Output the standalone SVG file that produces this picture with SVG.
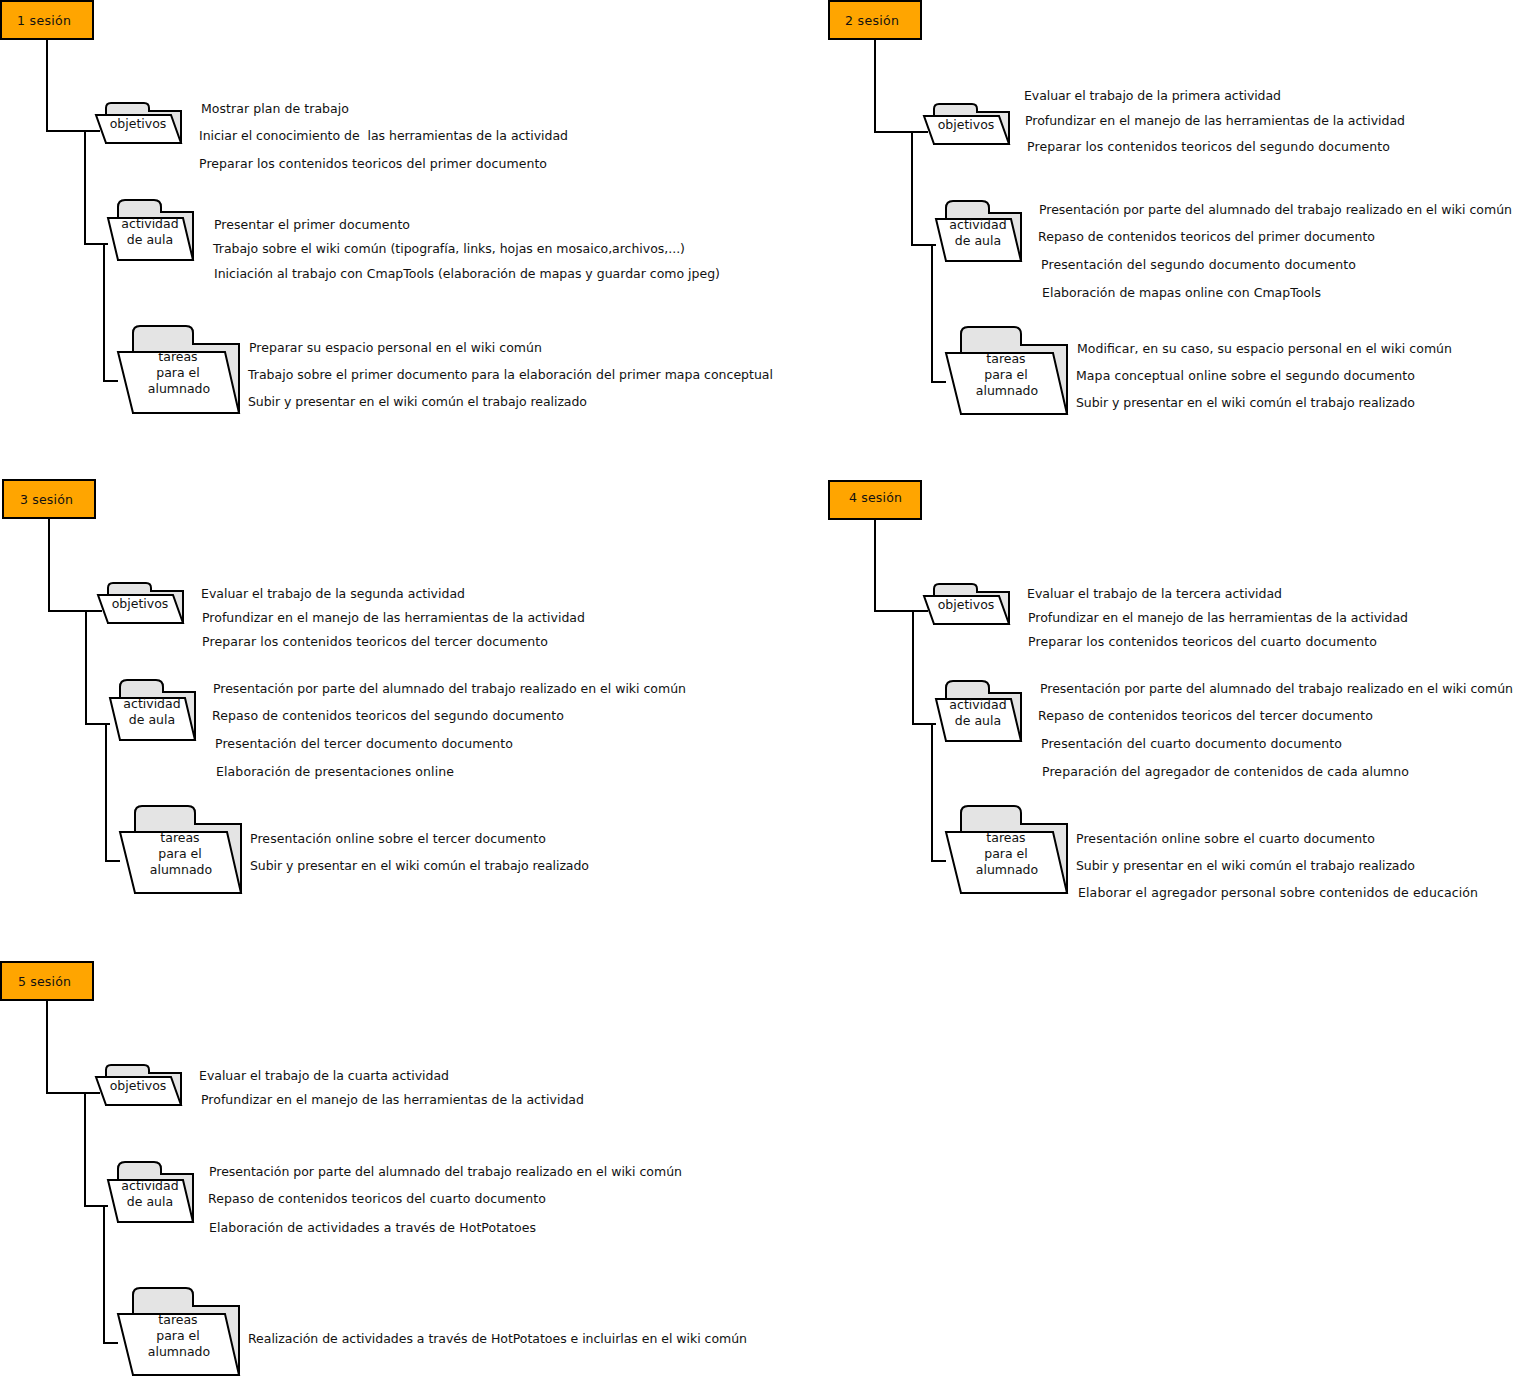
<svg xmlns="http://www.w3.org/2000/svg" width="1516" height="1377" viewBox="0 0 1516 1377">
<style>
text{font-family:"DejaVu Sans",sans-serif;font-size:12.5px;fill:#111;white-space:pre}
.c{text-anchor:middle}
.box{fill:#ffa500;stroke:#000;stroke-width:2}
.bk{fill:#e4e4e4;stroke:#000;stroke-width:2}
.fr{fill:#fff;stroke:#000;stroke-width:2}
.cn{fill:none;stroke:#000;stroke-width:2}
</style>
<defs>
<g id="fo"><path class="bk" d="M106 115V108Q106 103 111 103H144Q149 103 149 108V111H181V143H106Z"/><path class="fr" d="M96 115H171L181 143H106Z"/></g>
<g id="fa"><path class="bk" d="M118 218V207Q118 200 125 200H154Q161 200 161 207V212H193V260H118Z"/><path class="fr" d="M108 218H183L193 260H118Z"/></g>
<g id="ft"><path class="bk" d="M133 352V333Q133 326 140 326H186Q193 326 193 333V344H239V413H133Z"/><path class="fr" d="M118 352H225L239 413H133Z"/></g>
</defs>
<g id="connectors">
<path class="cn" d="M47 39V131H100M85 131V244H108M104 244V381H118"/>
<path class="cn" d="M875 39V132H928M912 132V245H936M932 245V382H946"/>
<path class="cn" d="M49 518V611H102M86 611V724H110M106 724V861H120"/>
<path class="cn" d="M875 519V611H928M913 611V724H936M932 724V861H946"/>
<path class="cn" d="M47 1001V1093H100M85 1093V1206H108M104 1206V1343H118"/>
</g>
<g id="s1"><rect class="box" x="1" y="1" width="92" height="38"/><text x="17" y="25" textLength="54">1 sesión</text></g>
<g id="s1-obj"><use href="#fo"/><text class="c" x="138" y="128">objetivos</text>
<text x="201" y="113" textLength="148">Mostrar plan de trabajo</text><text x="199" y="140" textLength="369">Iniciar el conocimiento de  las herramientas de la actividad</text><text x="199" y="168" textLength="348">Preparar los contenidos teoricos del primer documento</text></g>
<g id="s1-act"><use href="#fa"/><text class="c" x="150" y="228">actividad</text><text class="c" x="150" y="244">de aula</text>
<text x="214" y="229" textLength="196">Presentar el primer documento</text><text x="213" y="253" textLength="472">Trabajo sobre el wiki común (tipografía, links, hojas en mosaico,archivos,...)</text><text x="214" y="278" textLength="506">Iniciación al trabajo con CmapTools (elaboración de mapas y guardar como jpeg)</text></g>
<g id="s1-tar"><use href="#ft"/><text class="c" x="178" y="361">tareas</text><text class="c" x="178" y="377">para el</text><text class="c" x="179" y="393">alumnado</text>
<text x="249" y="352" textLength="293">Preparar su espacio personal en el wiki común</text><text x="248" y="379" textLength="525">Trabajo sobre el primer documento para la elaboración del primer mapa conceptual</text><text x="248" y="406" textLength="339">Subir y presentar en el wiki común el trabajo realizado</text></g>

<g id="s2"><rect class="box" x="829" y="1" width="92" height="38"/><text x="845" y="25" textLength="54">2 sesión</text></g>
<g id="s2-obj"><use href="#fo" x="828" y="1"/><text class="c" x="966" y="129">objetivos</text>
<text x="1024" y="100" textLength="257">Evaluar el trabajo de la primera actividad</text><text x="1025" y="125" textLength="380">Profundizar en el manejo de las herramientas de la actividad</text><text x="1027" y="151" textLength="363">Preparar los contenidos teoricos del segundo documento</text></g>
<g id="s2-act"><use href="#fa" x="828" y="1"/><text class="c" x="978" y="229">actividad</text><text class="c" x="978" y="245">de aula</text>
<text x="1039" y="214" textLength="473">Presentación por parte del alumnado del trabajo realizado en el wiki común</text><text x="1038" y="241" textLength="337">Repaso de contenidos teoricos del primer documento</text><text x="1041" y="269" textLength="315">Presentación del segundo documento documento</text><text x="1042" y="297" textLength="279">Elaboración de mapas online con CmapTools</text></g>
<g id="s2-tar"><use href="#ft" x="828" y="1"/><text class="c" x="1006" y="363">tareas</text><text class="c" x="1006" y="379">para el</text><text class="c" x="1007" y="395">alumnado</text>
<text x="1077" y="353" textLength="375">Modificar, en su caso, su espacio personal en el wiki común</text><text x="1076" y="380" textLength="339">Mapa conceptual online sobre el segundo documento</text><text x="1076" y="407" textLength="339">Subir y presentar en el wiki común el trabajo realizado</text></g>

<g id="s3"><rect class="box" x="3" y="480" width="92" height="38"/><text x="20" y="504" textLength="53">3 sesión</text></g>
<g id="s3-obj"><use href="#fo" x="2" y="480"/><text class="c" x="140" y="608">objetivos</text>
<text x="201" y="598" textLength="264">Evaluar el trabajo de la segunda actividad</text><text x="202" y="622" textLength="383">Profundizar en el manejo de las herramientas de la actividad</text><text x="202" y="646" textLength="346">Preparar los contenidos teoricos del tercer documento</text></g>
<g id="s3-act"><use href="#fa" x="2" y="480"/><text class="c" x="152" y="708">actividad</text><text class="c" x="152" y="724">de aula</text>
<text x="213" y="693" textLength="473">Presentación por parte del alumnado del trabajo realizado en el wiki común</text><text x="212" y="720" textLength="352">Repaso de contenidos teoricos del segundo documento</text><text x="215" y="748" textLength="298">Presentación del tercer documento documento</text><text x="216" y="776" textLength="238">Elaboración de presentaciones online</text></g>
<g id="s3-tar"><use href="#ft" x="2" y="480"/><text class="c" x="180" y="842">tareas</text><text class="c" x="180" y="858">para el</text><text class="c" x="181" y="874">alumnado</text>
<text x="250" y="843" textLength="296">Presentación online sobre el tercer documento</text><text x="250" y="870" textLength="339">Subir y presentar en el wiki común el trabajo realizado</text></g>

<g id="s4"><rect class="box" x="829" y="481" width="92" height="38"/><text x="849" y="502" textLength="53">4 sesión</text></g>
<g id="s4-obj"><use href="#fo" x="828" y="481"/><text class="c" x="966" y="609">objetivos</text>
<text x="1027" y="598" textLength="255">Evaluar el trabajo de la tercera actividad</text><text x="1028" y="622" textLength="380">Profundizar en el manejo de las herramientas de la actividad</text><text x="1028" y="646" textLength="349">Preparar los contenidos teoricos del cuarto documento</text></g>
<g id="s4-act"><use href="#fa" x="828" y="481"/><text class="c" x="978" y="709">actividad</text><text class="c" x="978" y="725">de aula</text>
<text x="1040" y="693" textLength="473">Presentación por parte del alumnado del trabajo realizado en el wiki común</text><text x="1038" y="720" textLength="335">Repaso de contenidos teoricos del tercer documento</text><text x="1041" y="748" textLength="301">Presentación del cuarto documento documento</text><text x="1042" y="776" textLength="367">Preparación del agregador de contenidos de cada alumno</text></g>
<g id="s4-tar"><use href="#ft" x="828" y="480"/><text class="c" x="1006" y="842">tareas</text><text class="c" x="1006" y="858">para el</text><text class="c" x="1007" y="874">alumnado</text>
<text x="1076" y="843" textLength="299">Presentación online sobre el cuarto documento</text><text x="1076" y="870" textLength="339">Subir y presentar en el wiki común el trabajo realizado</text><text x="1078" y="897" textLength="400">Elaborar el agregador personal sobre contenidos de educación</text></g>

<g id="s5"><rect class="box" x="1" y="962" width="92" height="38"/><text x="18" y="986" textLength="53">5 sesión</text></g>
<g id="s5-obj"><use href="#fo" y="962"/><text class="c" x="138" y="1090">objetivos</text>
<text x="199" y="1080" textLength="250">Evaluar el trabajo de la cuarta actividad</text><text x="201" y="1104" textLength="383">Profundizar en el manejo de las herramientas de la actividad</text></g>
<g id="s5-act"><use href="#fa" y="962"/><text class="c" x="150" y="1190">actividad</text><text class="c" x="150" y="1206">de aula</text>
<text x="209" y="1176" textLength="473">Presentación por parte del alumnado del trabajo realizado en el wiki común</text><text x="208" y="1203" textLength="338">Repaso de contenidos teoricos del cuarto documento</text><text x="209" y="1232" textLength="327">Elaboración de actividades a través de HotPotatoes</text></g>
<g id="s5-tar"><use href="#ft" y="962"/><text class="c" x="178" y="1324">tareas</text><text class="c" x="178" y="1340">para el</text><text class="c" x="179" y="1356">alumnado</text>
<text x="248" y="1343" textLength="499">Realización de actividades a través de HotPotatoes e incluirlas en el wiki común</text></g>
</svg>
